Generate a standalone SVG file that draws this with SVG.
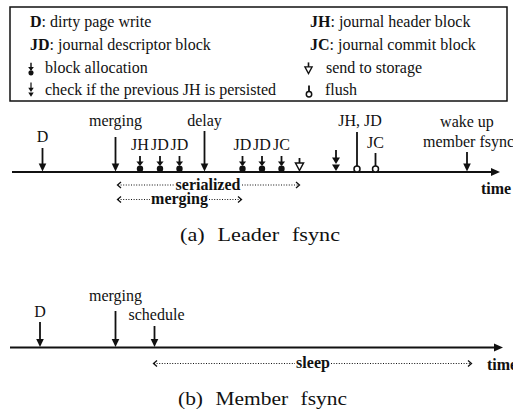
<svg xmlns="http://www.w3.org/2000/svg" width="513" height="409" viewBox="0 0 513 409" font-family="'Liberation Serif', 'Times New Roman', serif">
<style>
text{font-family:'Liberation Serif','Times New Roman',serif;font-size:16px;fill:#111}
.b{font-weight:bold}
.m{text-anchor:middle}
.st{stroke:#111;stroke-width:1.8;fill:none}
.ax{stroke:#111;stroke-width:2;fill:none}
.dot{stroke:#111;stroke-width:1.2;stroke-dasharray:1 1.6;fill:none}
.chev{stroke:#111;stroke-width:1.3;fill:none}
.cap{font-size:18px;word-spacing:6px}
.fill{fill:#111}
.open{fill:#fff;stroke:#111;stroke-width:1.5}
</style>
<defs>
<path id="head" d="M-3.8,-8 L3.8,-8 L0,0 Z" class="fill"/>
<g id="alloc">
<line x1="0" y1="-16" x2="0" y2="-7" class="st"/>
<path d="M-3.6,-10.5 L3.6,-10.5 L0,-6 Z" class="fill"/>
<circle cx="0" cy="-3.3" r="3.2" class="fill"/>
</g>
<g id="check">
<line x1="0" y1="-22" x2="0" y2="-12" class="st"/>
<path d="M-4,-14.5 L4,-14.5 L0,-8 Z" class="fill"/>
<path d="M-4,-7.5 L4,-7.5 L0,-1 Z" class="fill"/>
</g>
<g id="send">
<line x1="0" y1="-14" x2="0" y2="-9" class="st"/>
<path d="M-4,-9 L4,-9 L0,-1.5 Z" class="open"/>
</g>
<path id="tarrow" d="M0,0 L-9,-4 L-9,4 Z" class="fill"/>
</defs>

<g id="legend">
<rect x="10" y="7" width="497" height="94" fill="#fff" stroke="#111" stroke-width="1.5"/>
<text x="30" y="27"><tspan class="b">D</tspan>: dirty page write</text>
<text x="30" y="50"><tspan class="b">JD</tspan>: journal descriptor block</text>
<use href="#alloc" transform="translate(31,75.5) scale(0.8)"/>
<text x="45" y="73">block allocation</text>
<use href="#check" transform="translate(31,97.5) scale(0.68)"/>
<text x="45" y="95">check if the previous JH is persisted</text>
<text x="310" y="27"><tspan class="b">JH</tspan>: journal header block</text>
<text x="310" y="50"><tspan class="b">JC</tspan>: journal commit block</text>
<use href="#send" transform="translate(308.5,75) scale(0.9)"/>
<text x="326" y="73">send to storage</text>
<line x1="309" y1="85.5" x2="309" y2="91.5" class="st"/>
<circle cx="309" cy="94.2" r="2.7" class="open"/>
<text x="325" y="95">flush</text>
</g>

<g id="connectors">
<line x1="12" y1="172" x2="492" y2="172" class="ax"/>
<use href="#tarrow" transform="translate(500,172)"/>
<line x1="10" y1="347.5" x2="495" y2="347.5" class="ax"/>
<use href="#tarrow" transform="translate(503,347.5)"/>
<line x1="118" y1="185" x2="174" y2="185" class="dot"/>
<line x1="242" y1="185" x2="299" y2="185" class="dot"/>
<polyline points="121,182 117.5,185 121,188" class="chev"/>
<polyline points="296,182 299.5,185 296,188" class="chev"/>
<line x1="118" y1="199.5" x2="150" y2="199.5" class="dot"/>
<line x1="209" y1="199.5" x2="241" y2="199.5" class="dot"/>
<polyline points="121,196.5 117.5,199.5 121,202.5" class="chev"/>
<polyline points="238,196.5 241.5,199.5 238,202.5" class="chev"/>
<line x1="154" y1="363.5" x2="295" y2="363.5" class="dot"/>
<line x1="331" y1="363.5" x2="471" y2="363.5" class="dot"/>
<polyline points="157,360.5 153.5,363.5 157,366.5" class="chev"/>
<polyline points="468,360.5 471.5,363.5 468,366.5" class="chev"/>
</g>

<g id="leader-labels">
<text x="481" y="194" class="b">time</text>
<text x="208" y="189.5" class="b m">serialized</text>
<text x="179.5" y="204" class="b m">merging</text>
</g>

<g id="a-D">
<text x="42.5" y="142" class="m">D</text>
<line x1="42.5" y1="148" x2="42.5" y2="164" class="st"/>
<use href="#head" transform="translate(42.5,171.5)"/>
</g>
<g id="a-merging">
<text x="115.5" y="126" class="m">merging</text>
<line x1="115.5" y1="137" x2="115.5" y2="164" class="st"/>
<use href="#head" transform="translate(115.5,171.5)"/>
</g>
<g id="a-JH"><text x="140" y="150" class="m">JH</text><use href="#alloc" transform="translate(140,172)"/></g>
<g id="a-JD1"><text x="160" y="150" class="m">JD</text><use href="#alloc" transform="translate(160,172)"/></g>
<g id="a-JD2"><text x="179.5" y="150" class="m">JD</text><use href="#alloc" transform="translate(179.5,172)"/></g>
<g id="a-delay">
<text x="204.5" y="126" class="m">delay</text>
<line x1="204.5" y1="131" x2="204.5" y2="164" class="st"/>
<use href="#head" transform="translate(204.5,171.5)"/>
</g>
<g id="a-JD3"><text x="242.5" y="150" class="m">JD</text><use href="#alloc" transform="translate(242.5,172)"/></g>
<g id="a-JD4"><text x="262" y="150" class="m">JD</text><use href="#alloc" transform="translate(262,172)"/></g>
<g id="a-JC"><text x="281.5" y="150" class="m">JC</text><use href="#alloc" transform="translate(281.5,172)"/></g>
<g id="a-send"><use href="#send" transform="translate(299.5,172)"/></g>
<g id="a-check"><use href="#check" transform="translate(336,172)"/></g>
<g id="a-flush1">
<text x="360" y="126" class="m">JH, JD</text>
<line x1="357" y1="132" x2="357" y2="166" class="st"/>
<circle cx="357" cy="169" r="3" class="open"/>
</g>
<g id="a-flush2">
<text x="375.5" y="148" class="m">JC</text>
<line x1="375.5" y1="153" x2="375.5" y2="166" class="st"/>
<circle cx="375.5" cy="169" r="3" class="open"/>
</g>
<g id="a-wakeup">
<text x="467" y="127" class="m">wake up</text>
<text x="423" y="147">member fsync</text>
<line x1="467" y1="152" x2="467" y2="164" class="st"/>
<use href="#head" transform="translate(467,171.5)"/>
</g>
<g id="caption-a"><text x="180" y="241" class="cap" textLength="160" lengthAdjust="spacingAndGlyphs">(a) Leader fsync</text></g>

<g id="b-D">
<text x="40" y="317" class="m">D</text>
<line x1="40" y1="322" x2="40" y2="339" class="st"/>
<use href="#head" transform="translate(40,347)"/>
</g>
<g id="b-merging">
<text x="115.5" y="301" class="m">merging</text>
<line x1="115.5" y1="311" x2="115.5" y2="339" class="st"/>
<use href="#head" transform="translate(115.5,347)"/>
</g>
<g id="b-schedule">
<text x="156.5" y="320" class="m">schedule</text>
<line x1="154.5" y1="326" x2="154.5" y2="339" class="st"/>
<use href="#head" transform="translate(154.5,347)"/>
</g>
<g id="member-labels">
<text x="313" y="368" class="b m">sleep</text>
<text x="487" y="370" class="b">time</text>
</g>
<g id="caption-b"><text x="178" y="405" class="cap" textLength="169" lengthAdjust="spacingAndGlyphs">(b) Member fsync</text></g>
</svg>
